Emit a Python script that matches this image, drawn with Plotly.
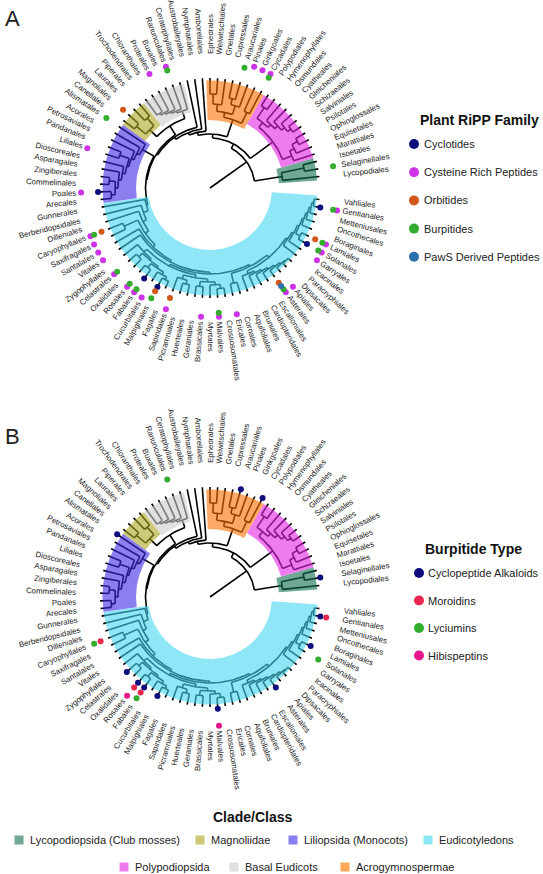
import math
import plotly.graph_objects as go

# ---------------- data ----------------
ORDERS = ["Lycopodiales", "Selaginellales", "Isoetales", "Marattiales", "Equisetales", "Ophioglossales",
          "Psilotales", "Salviniales", "Schizaeales", "Gleicheniales", "Cyatheales", "Osmundales",
          "Hymenophyllales", "Polypodiales", "Cycadales", "Ginkgoales", "Pinales", "Araucariales",
          "Cupressales", "Gnetales", "Welwitschiales", "Ephedrales", "Amborellales", "Nymphaeales",
          "Austrobaileyales", "Ceratophyllales", "Ranunculales", "Buxales", "Proteales", "Chloranthales",
          "Trochodendrales", "Piperales", "Laurales", "Magnoliales", "Canellales", "Alismatales", "Acorales",
          "Petrosaviales", "Pandanales", "Liliales", "Dioscoreales", "Asparagales", "Zingiberales",
          "Commelinales", "Poales", "Arecales", "Gunnerales", "Berberidopsidales", "Dilleniales",
          "Caryophyllales", "Saxifragales", "Santalales", "Vitales", "Zygophyllales", "Celastrales",
          "Oxalidales", "Rosales", "Fabales", "Cucurbitales", "Malpighiales", "Fagales", "Sapindales",
          "Picramniales", "Huerteales", "Geraniales", "Brassicales", "Myrtales", "Malvales",
          "Crossosomatales", "Ericales", "Cornales", "Aquifoliales", "Bruniales", "Cardiopteridales",
          "Escalloniales", "Asterales", "Apiales", "Dipsacales", "Paracryphiales", "Icacinales", "Garryales",
          "Solanales", "Lamiales", "Boraginales", "Oncothecales", "Metteniusales", "Gentianales", "Vahliales"]

# tree: [node depth, child, child, ...]; leaves are order names (tip depth = TIP_DEPTH)
TIP_DEPTH = 110
LYCO = [73, "Lycopodiales", [96, "Selaginellales", "Isoetales"]]
FERN = [78, [88, "Marattiales", [93, "Equisetales", [99, "Ophioglossales", "Psilotales"]]],
        [84, [88, [92, [96, [100, "Salviniales", "Schizaeales"], "Gleicheniales"], "Cyatheales"], "Osmundales"],
         [97, "Hymenophyllales", "Polypodiales"]]]
GYMNO = [72, [84, "Cycadales", "Ginkgoales"],
         [77, [86, "Pinales", [92, "Araucariales", "Cupressales"]], [84, "Gnetales", [94, "Welwitschiales", "Ephedrales"]]]]
BASEUD = [82, "Ceratophyllales", [84, "Ranunculales", [86, "Buxales", [88, "Proteales", [90, "Chloranthales", "Trochodendrales"]]]]]
MAGN = [84, [94, "Piperales", "Laurales"], [96, "Magnoliales", "Canellales"]]
MONO = [78, "Alismatales", [81, "Acorales", [84, "Petrosaviales",
        [86, [96, "Pandanales", "Liliales"], [89, "Dioscoreales", [92, "Asparagales",
         [95, [101, "Zingiberales", "Commelinales"], [99, "Poales", "Arecales"]]]]]]]]
ROS = [88, [92, "Zygophyllales", [94, [99, "Celastrales", "Oxalidales"],
            [96, [101, "Rosales", "Fabales"], [99, "Cucurbitales", [102, "Malpighiales", "Fagales"]]]]],
       [91, [95, "Sapindales", [99, "Picramniales", "Huerteales"]],
        [94, [99, "Geraniales", "Brassicales"], [97, "Myrtales", [101, "Malvales", "Crossosomatales"]]]]]
AST = [88, [98, "Ericales", "Cornales"],
       [91, [94, "Aquifoliales", [96, "Bruniales", [98, "Cardiopteridales", [100, "Escalloniales",
              [102, "Asterales", [104, "Apiales", [105, "Dipsacales", "Paracryphiales"]]]]]]],
        [93, "Icacinales", [95, "Garryales", [97, [102, "Solanales", "Lamiales"],
              [99, "Boraginales", [101, "Oncothecales", [103, "Metteniusales", [105, "Gentianales", "Vahliales"]]]]]]]]]
EUD = [66, "Gunnerales", [71, "Berberidopsidales", [75, "Dilleniales",
       [79, [94, "Caryophyllales", "Saxifragales"], [82, "Santalales", [84, "Vitales", [86, ROS, AST]]]]]]]
MESO = [63.5, [74, BASEUD, MAGN], [64.5, MONO, EUD]]
ANG = [57, "Amborellales", [59.5, "Nymphaeales", [62, "Austrobaileyales", MESO]]]
SEED = [54, GYMNO, ANG]
EUPH = [50, FERN, SEED]
TREE = [45, LYCO, EUPH]

CLADES = ["Lycopodiopsida (Club mosses)", "Magnoliidae", "Liliopsida (Monocots)", "Eudicotyledons",
          "Polypodiopsida", "Basal Eudicots", "Acrogymnospermae"]
CLADE_FIRST = ["Lycopodiales", "Piperales", "Alismatales", "Gunnerales", "Marattiales", "Ceratophyllales", "Cycadales"]
CLADE_LAST = ["Isoetales", "Canellales", "Arecales", "Vahliales", "Polypodiales", "Trochodendrales", "Ephedrales"]
CLADE_COLORS = ["#6fa995", "#cdcb7a", "#8b7ff0", "#8ee6f7", "#ef7cef", "#e0e0e0", "#fca95a"]

# Panel A: Plant RiPP families
RIPP_FAMILIES = ["Cyclotides", "Cysteine Rich Peptides", "Orbitides", "Burpitides", "PawS Derived Peptides"]
RIPP_COLORS = ["#0d0d7d", "#cc33e6", "#d2591a", "#33ad2e", "#2a70ad"]
CYCLOTIDE_ORDERS = ["Poales", "Fabales", "Malpighiales", "Solanales", "Gentianales"]
CRP_ORDERS = ["Cycadales", "Ginkgoales", "Pinales", "Ranunculales", "Proteales", "Liliales", "Poales",
              "Caryophyllales", "Saxifragales", "Santalales", "Vitales", "Celastrales", "Rosales", "Fabales",
              "Cucurbitales", "Sapindales", "Brassicales", "Malvales", "Ericales", "Asterales", "Apiales",
              "Garryales", "Solanales", "Lamiales", "Gentianales"]
ORBITIDE_ORDERS = ["Magnoliales", "Caryophyllales", "Malpighiales", "Sapindales", "Asterales", "Lamiales"]
BURPITIDE_ORDERS = ["Selaginellales", "Cycadales", "Araucariales", "Ranunculales", "Alismatales",
                    "Caryophyllales", "Celastrales", "Rosales", "Fabales", "Malpighiales", "Malvales",
                    "Asterales", "Solanales", "Lamiales", "Gentianales"]
PAWS_ORDERS = ["Asterales"]

# Panel B: Burpitide types
BURP_TYPES = ["Cyclopeptide Alkaloids", "Moroidins", "Lyciumins", "Hibispeptins"]
BURP_COLORS = ["#0d0d7d", "#e8264e", "#33ad2e", "#e6168a"]
CYCLOPEPTIDE_ALKALOID_ORDERS = ["Selaginellales", "Cycadales", "Araucariales", "Alismatales", "Celastrales",
                                "Rosales", "Fabales", "Malpighiales", "Malvales", "Asterales", "Lamiales",
                                "Gentianales"]
MOROIDIN_ORDERS = ["Caryophyllales", "Rosales", "Fabales", "Gentianales"]
LYCIUMIN_ORDERS = ["Ranunculales", "Caryophyllales", "Fabales", "Solanales"]
HIBISPEPTIN_ORDERS = ["Rosales", "Malvales"]

# ---------------- layout constants ----------------
W_FIG, H_FIG = 543, 874
CENTERS = {"A": (210, 188), "B": (210, 597)}
ANGLE0, ANGLE_STEP = 6.0, 4.0
LABEL_R = 134
LABEL_SIZE = 7.9
SECTOR_OUT = 107.5
SECTOR_ALPHA = 0.6
DOT_R_A = [112, 129, 117, 125, 121]
DOT_R_B = [112, 118, 125, 129]
FONT = "Liberation Sans, Arial, sans-serif"

ARIAL = {'a': 556, 'b': 556, 'c': 500, 'd': 556, 'e': 556, 'f': 278, 'g': 556, 'h': 556, 'i': 222, 'j': 222,
         'k': 500, 'l': 222, 'm': 833, 'n': 556, 'o': 556, 'p': 556, 'q': 556, 'r': 333, 's': 500, 't': 278,
         'u': 556, 'v': 500, 'w': 722, 'x': 500, 'y': 500, 'z': 500, 'A': 667, 'B': 667, 'C': 722, 'D': 722,
         'E': 667, 'F': 611, 'G': 778, 'H': 722, 'I': 278, 'J': 500, 'K': 667, 'L': 556, 'M': 833, 'N': 722,
         'O': 778, 'P': 667, 'Q': 778, 'R': 722, 'S': 667, 'T': 611, 'U': 722, 'V': 667, 'W': 944, 'X': 667,
         'Y': 667, 'Z': 611, ' ': 278, '(': 333, ')': 333, '/': 278}


def text_w(s, size):
    return sum(ARIAL.get(c, 556) for c in s) / 1000.0 * size


def ang(i):
    return ANGLE0 + ANGLE_STEP * i


def pt(c, r, deg):
    t = math.radians(deg)
    return c[0] + r * math.cos(t), c[1] - r * math.sin(t)


# ---------------- tree layout ----------------
NODES = []  # (lo, hi, depth)


def walk(node, parent_r, segs):
    if isinstance(node, str):
        i = ORDERS.index(node)
        segs.append(("rad", ang(i), parent_r, TIP_DEPTH))
        return ang(i), i, i
    r = node[0]
    res = [walk(ch, r, segs) for ch in node[1:]]
    thetas = [x[0] for x in res]
    th = sum(thetas) / len(thetas)
    segs.append(("arc", r, min(thetas), max(thetas)))
    segs.append(("rad", th, parent_r, r))
    lo = min(x[1] for x in res)
    hi = max(x[2] for x in res)
    NODES.append((lo, hi, r))
    return th, lo, hi


SEGS = []
walk(TREE, 0, SEGS)


def node_depth(lo, hi):
    for a, b, r in NODES:
        if a == lo and b == hi:
            return r
    return None


def blend_base(hexc, a):
    h = hexc.lstrip('#')
    rgb = [int(h[k:k + 2], 16) for k in (0, 2, 4)]
    base = [max(0, min(255, round((v - 255 * (1 - a)) / a))) for v in rgb]
    return "rgba(%d,%d,%d,%.2f)" % (base[0], base[1], base[2], a)


fig = go.Figure()
annotations = []


def draw_panel(c, dot_lists, dot_colors, dot_radii, dot_names):
    xs, ys = [], []
    for s in SEGS:
        if s[0] == "rad":
            _, th, r0, r1 = s
            p0, p1 = pt(c, r0, th), pt(c, r1, th)
            xs += [p0[0], p1[0], None]
            ys += [p0[1], p1[1], None]
        else:
            _, r, a0, a1 = s
            n = max(2, int(abs(a1 - a0) / 1.0) + 2)
            for k in range(n):
                p = pt(c, r, a0 + (a1 - a0) * k / (n - 1))
                xs.append(p[0]); ys.append(p[1])
            xs.append(None); ys.append(None)
    fig.add_trace(go.Scatter(x=xs, y=ys, mode="lines", line=dict(color="#000000", width=1.6),
                             hoverinfo="skip", showlegend=False))
    # clade highlights
    for name, f, l, col in zip(CLADES, CLADE_FIRST, CLADE_LAST, CLADE_COLORS):
        lo, hi = ORDERS.index(f), ORDERS.index(l)
        inner = node_depth(lo, hi) - 4
        a0, a1 = ang(lo) - ANGLE_STEP / 2, ang(hi) + ANGLE_STEP / 2
        n = int((a1 - a0) / 0.5) + 2
        px, py = [], []
        for k in range(n):
            p = pt(c, SECTOR_OUT, a0 + (a1 - a0) * k / (n - 1)); px.append(p[0]); py.append(p[1])
        for k in range(n):
            p = pt(c, inner, a1 - (a1 - a0) * k / (n - 1)); px.append(p[0]); py.append(p[1])
        fig.add_trace(go.Scatter(x=px, y=py, mode="lines", fill="toself", line=dict(width=0),
                                 fillcolor=blend_base(col, SECTOR_ALPHA), hoverinfo="skip",
                                 showlegend=False, name=name))
    # dots
    for lst, col, rr, nm in zip(dot_lists, dot_colors, dot_radii, dot_names):
        dx, dy = [], []
        for o in lst:
            p = pt(c, rr, ang(ORDERS.index(o)))
            dx.append(p[0]); dy.append(p[1])
        fig.add_trace(go.Scatter(x=dx, y=dy, mode="markers", marker=dict(color=col, size=6),
                                 name=nm, text=lst, hoverinfo="text+name", showlegend=False))
    # labels
    for i, o in enumerate(ORDERS):
        th = ang(i)
        w = text_w(o, LABEL_SIZE)
        p = pt(c, LABEL_R + w / 2, th)
        if 90 < th < 270:
            ta = 180 - th
        else:
            tt = th if th <= 90 else th - 360
            ta = -tt
        annotations.append(dict(x=p[0], y=p[1], xref="x", yref="y", text=o, showarrow=False,
                                textangle=ta, xanchor="center", yanchor="middle", borderpad=0,
                                font=dict(size=LABEL_SIZE, color="#222222", family=FONT)))


draw_panel(CENTERS["A"],
           [CYCLOTIDE_ORDERS, CRP_ORDERS, ORBITIDE_ORDERS, BURPITIDE_ORDERS, PAWS_ORDERS],
           RIPP_COLORS, DOT_R_A, RIPP_FAMILIES)
draw_panel(CENTERS["B"],
           [CYCLOPEPTIDE_ALKALOID_ORDERS, MOROIDIN_ORDERS, LYCIUMIN_ORDERS, HIBISPEPTIN_ORDERS],
           BURP_COLORS, DOT_R_B, BURP_TYPES)

# ---------------- legends (drawn) ----------------
def legend_block(title, title_xy, names, colors, mx, tx, y0, dy, symbol="circle", msize=10):
    annotations.append(dict(x=title_xy[0], y=title_xy[1], xref="x", yref="y", text="<b>%s</b>" % title,
                            showarrow=False, xanchor="center", yanchor="middle",
                            font=dict(size=14, color="#111111", family=FONT)))
    for k, (n, col) in enumerate(zip(names, colors)):
        y = y0 + dy * k
        fig.add_trace(go.Scatter(x=[mx], y=[y], mode="markers",
                                 marker=dict(color=col, size=msize, symbol=symbol),
                                 hoverinfo="skip", showlegend=False))
        annotations.append(dict(x=tx, y=y, xref="x", yref="y", text=n, showarrow=False,
                                xanchor="left", yanchor="middle",
                                font=dict(size=11, color="#222222", family=FONT)))


legend_block("Plant RiPP Family", (479, 120), RIPP_FAMILIES, RIPP_COLORS, 414, 422, 144, 28.2)
legend_block("Burpitide Type", (473, 549), BURP_TYPES, BURP_COLORS, 419, 426, 573, 27.5)

# Clade/Class legend, two rows
annotations.append(dict(x=253, y=817, xref="x", yref="y", text="<b>Clade/Class</b>", showarrow=False,
                        xanchor="center", yanchor="middle", font=dict(size=14, color="#111111", family=FONT)))
ROW_SQ_X = [19, 200, 293, 428, 124, 234, 345]
ROW_Y = [840, 840, 840, 840, 867, 867, 867]
for n, col, sx, sy in zip(CLADES, CLADE_COLORS, ROW_SQ_X, ROW_Y):
    fig.add_trace(go.Scatter(x=[sx], y=[sy], mode="markers",
                             marker=dict(color=col, size=9, symbol="square"),
                             hoverinfo="skip", showlegend=False))
    annotations.append(dict(x=sx + 9, y=sy, xref="x", yref="y", text=n, showarrow=False,
                            xanchor="left", yanchor="middle",
                            font=dict(size=11, color="#222222", family=FONT)))

# panel letters
annotations.append(dict(x=3, y=18, xref="x", yref="y", text="A", showarrow=False, xanchor="left",
                        yanchor="middle", font=dict(size=22, color="#222222", family=FONT)))
annotations.append(dict(x=3, y=436, xref="x", yref="y", text="B", showarrow=False, xanchor="left",
                        yanchor="middle", font=dict(size=22, color="#222222", family=FONT)))

fig.update_layout(
    width=W_FIG, height=H_FIG, margin=dict(l=0, r=0, t=0, b=0),
    paper_bgcolor="white", plot_bgcolor="white", showlegend=False,
    xaxis=dict(range=[0, W_FIG], visible=False, fixedrange=True),
    yaxis=dict(range=[H_FIG, 0], visible=False, fixedrange=True),
    annotations=annotations,
)
fig.write_html("out.html", config={"displayModeBar": False},
               post_script="document.body.style.margin='0px';document.body.style.overflow='hidden';")
